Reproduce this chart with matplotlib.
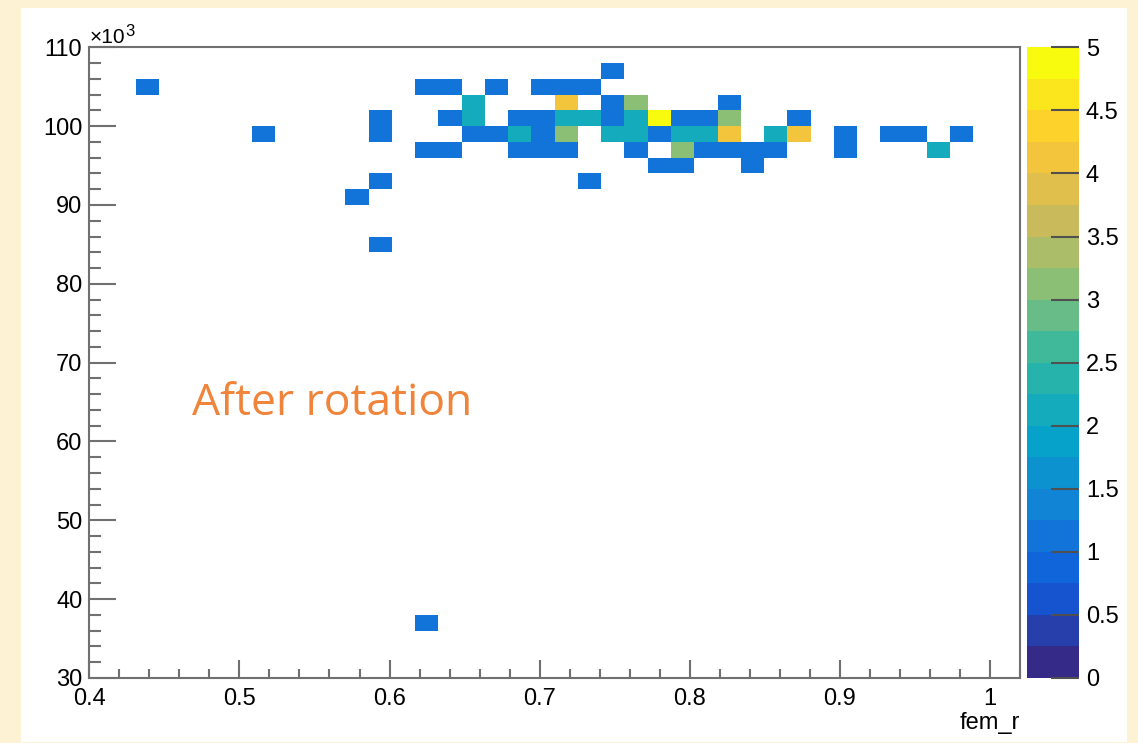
import numpy as np
import matplotlib.pyplot as plt
from matplotlib.colors import LinearSegmentedColormap, ListedColormap
from matplotlib.patches import Rectangle
from matplotlib.ticker import MultipleLocator, FuncFormatter

# bin contents: fem_r centre, y centre, entries
fem_r = [0.749,
         0.439, 0.625, 0.640, 0.671, 0.702, 0.718, 0.733,
         0.656, 0.718, 0.749, 0.764, 0.826,
         0.594, 0.640, 0.656, 0.687, 0.702, 0.718, 0.733, 0.749, 0.764, 0.780,
         0.795, 0.811, 0.826, 0.873,
         0.516, 0.594, 0.656, 0.671, 0.687, 0.702, 0.718, 0.749, 0.764, 0.780,
         0.795, 0.811, 0.826, 0.857, 0.873, 0.904, 0.935, 0.950, 0.981,
         0.625, 0.640, 0.687, 0.702, 0.718, 0.764, 0.795, 0.811, 0.826, 0.842,
         0.857, 0.904, 0.966,
         0.780, 0.795, 0.842,
         0.594, 0.733,
         0.578,
         0.594,
         0.625]
y_val = [107000,
         105000, 105000, 105000, 105000, 105000, 105000, 105000,
         103000, 103000, 103000, 103000, 103000,
         101000, 101000, 101000, 101000, 101000, 101000, 101000, 101000, 101000, 101000,
         101000, 101000, 101000, 101000,
         99000, 99000, 99000, 99000, 99000, 99000, 99000, 99000, 99000, 99000,
         99000, 99000, 99000, 99000, 99000, 99000, 99000, 99000, 99000,
         97000, 97000, 97000, 97000, 97000, 97000, 97000, 97000, 97000, 97000,
         97000, 97000, 97000,
         95000, 95000, 95000,
         93000, 93000,
         91000,
         85000,
         37000]
counts = [1,
          1, 1, 1, 1, 1, 1, 1,
          2, 4, 1, 3, 1,
          1, 1, 2, 1, 1, 2, 2, 1, 2, 5,
          1, 1, 3, 1,
          1, 1, 1, 1, 2, 1, 3, 2, 2, 1,
          2, 2, 4, 2, 4, 1, 1, 1, 1,
          1, 1, 1, 1, 1, 1, 3, 1, 1, 1,
          1, 1, 2,
          1, 1, 1,
          1, 1,
          1,
          1,
          1]

xedges = np.linspace(0.4, 1.02, 41)
yedges = np.linspace(30000, 110000, 41)

# ROOT kBird palette, 20 contours
stops = [0.0, 0.125, 0.25, 0.375, 0.5, 0.625, 0.75, 0.875, 1.0]
red = [0.2082, 0.0592, 0.0780, 0.0232, 0.1802, 0.5301, 0.8186, 0.9956, 0.9764]
green = [0.1664, 0.3599, 0.5041, 0.6419, 0.7178, 0.7492, 0.7328, 0.7862, 0.9832]
blue = [0.5293, 0.8684, 0.8385, 0.7914, 0.6425, 0.4662, 0.3499, 0.1968, 0.0539]
bird = LinearSegmentedColormap.from_list('bird', list(zip(stops, zip(red, green, blue))))
cmap = ListedColormap(bird(np.linspace(0, 1, 20)))

H, _, _ = np.histogram2d(fem_r, y_val, bins=[xedges, yedges], weights=counts)
H = np.ma.masked_equal(H.T, 0)

W, Hpx = 1138, 743
plt.rcParams['font.family'] = ['Liberation Sans', 'DejaVu Sans']
gray = '#707070'
lab = 17

fig = plt.figure(figsize=(W / 100, Hpx / 100), dpi=100, facecolor='#FEF2D5')
fig.patches.append(Rectangle((21 / W, 1 / Hpx), (1127 - 21) / W, (742 - 8) / Hpx,
                             transform=fig.transFigure, facecolor='white',
                             edgecolor='none', zorder=-10))

ax = fig.add_axes([89.3 / W, (Hpx - 678) / Hpx, (1020 - 89.3) / W, (678 - 47.3) / Hpx])
mesh = ax.pcolormesh(xedges, yedges, H, cmap=cmap, vmin=0, vmax=5)
ax.set_xlim(0.4, 1.02)
ax.set_ylim(30000, 110000)

for s in ax.spines.values():
    s.set_color(gray)
    s.set_linewidth(1.5)

ax.xaxis.set_major_locator(MultipleLocator(0.1))
ax.xaxis.set_minor_locator(MultipleLocator(0.02))
ax.yaxis.set_major_locator(MultipleLocator(10000))
ax.yaxis.set_minor_locator(MultipleLocator(2000))
ax.xaxis.set_major_formatter(FuncFormatter(lambda v, p: '%g' % round(v, 2)))
ax.yaxis.set_major_formatter(FuncFormatter(lambda v, p: '%d' % round(v / 1000)))

ax.tick_params(axis='x', which='major', direction='in', length=13, width=1.5,
               color=gray, labelsize=lab, pad=7)
ax.tick_params(axis='x', which='minor', direction='in', length=6.5, width=1.5, color=gray)
ax.tick_params(axis='y', which='major', direction='in', length=19.5, width=1.5,
               color=gray, labelsize=lab, pad=5)
ax.tick_params(axis='y', which='minor', direction='in', length=8.8, width=1.5, color=gray)

# x10^3 multiplier above the y axis
mult = ax.text(0.0, 1.0073, '\u00d710', transform=ax.transAxes, fontsize=15,
               ha='left', va='baseline')
ax.annotate('3', xy=(1, 0), xycoords=mult, xytext=(0, 7.5), textcoords='offset points',
            fontsize=12, ha='left', va='baseline')

ax.set_xlabel('fem_r', fontsize=lab, loc='right', labelpad=2)

fig.text(192 / W, (Hpx - 415) / Hpx, 'After rotation', fontsize=32,
         color='#F0843A', family='Open Sans', ha='left', va='baseline')

cax = fig.add_axes([1027 / W, (Hpx - 678) / Hpx, (1079 - 1027) / W, (678 - 47.3) / Hpx])
cb = fig.colorbar(mesh, cax=cax, ticks=np.arange(0, 5.01, 0.5))
cb.outline.set_visible(False)
cb.ax.yaxis.set_major_formatter(FuncFormatter(lambda v, p: '%g' % v))
cb.ax.tick_params(direction='in', length=20, width=1.5, color='#505050',
                  labelsize=lab, pad=5)

fig.savefig('out.png', dpi=100, facecolor=fig.get_facecolor())
